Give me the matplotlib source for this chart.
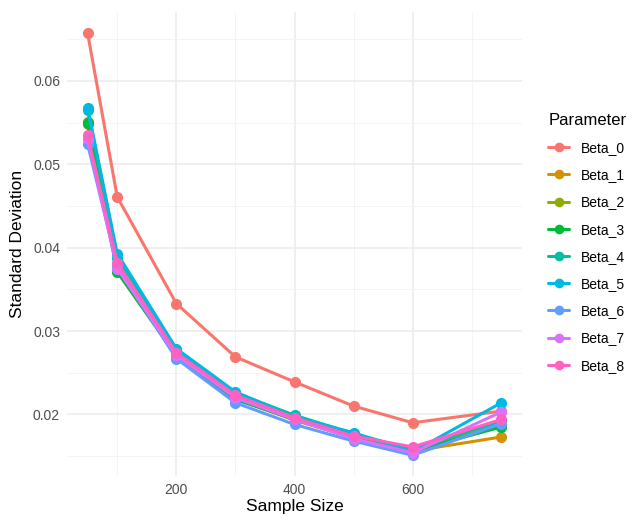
import numpy as np
import matplotlib
matplotlib.use("Agg")
import matplotlib.pyplot as plt

# --------------------------------------------------
# Data
# --------------------------------------------------

sample_sizes = [50, 100, 200, 300, 400, 500, 600, 750]

beta_0 = [0.0657, 0.0461, 0.0333, 0.0269, 0.0239, 0.0210, 0.0190, 0.0204]
beta_1 = [0.0548, 0.0376, 0.0271, 0.0219, 0.0193, 0.0172, 0.0156, 0.0173]
beta_2 = [0.0551, 0.0377, 0.0272, 0.0220, 0.0195, 0.0173, 0.0157, 0.0188]
beta_3 = [0.0549, 0.0371, 0.0270, 0.0218, 0.0194, 0.0172, 0.0156, 0.0185]
beta_4 = [0.0565, 0.0388, 0.0277, 0.0226, 0.0199, 0.0177, 0.0158, 0.0192]
beta_5 = [0.0568, 0.0393, 0.0279, 0.0227, 0.0197, 0.0178, 0.0155, 0.0214]
beta_6 = [0.0524, 0.0378, 0.0267, 0.0214, 0.0188, 0.0168, 0.0151, 0.0189]
beta_7 = [0.0530, 0.0375, 0.0271, 0.0220, 0.0194, 0.0171, 0.0154, 0.0203]
beta_8 = [0.0535, 0.0382, 0.0274, 0.0223, 0.0196, 0.0174, 0.0161, 0.0194]

labels = ["Beta_0", "Beta_1", "Beta_2", "Beta_3", "Beta_4",
          "Beta_5", "Beta_6", "Beta_7", "Beta_8"]
series = [beta_0, beta_1, beta_2, beta_3, beta_4,
          beta_5, beta_6, beta_7, beta_8]
colors = ["#F8766D", "#D39200", "#93AA00", "#00BA38", "#00C19F",
          "#00B9E3", "#619CFF", "#DB72FB", "#FF61C3"]

# --------------------------------------------------
# Figure
# --------------------------------------------------

plt.rcParams["font.family"] = ["Liberation Sans", "DejaVu Sans"]

fig = plt.figure(figsize=(6.32, 5.15), dpi=100)
ax = fig.add_axes([0.106, 0.075, 0.72, 0.901])

for label, values, color in zip(labels, series, colors):
    ax.plot(
        sample_sizes,
        values,
        color=color,
        linewidth=2.2,
        marker="o",
        markersize=7,
        label=label,
        solid_capstyle="round",
    )

# ggplot-like expansion
xmin, xmax = min(sample_sizes), max(sample_sizes)
all_vals = np.concatenate([np.array(s) for s in series])
ymin, ymax = all_vals.min(), all_vals.max()
ax.set_xlim(xmin - 0.05 * (xmax - xmin), xmax + 0.05 * (xmax - xmin))
ax.set_ylim(ymin - 0.05 * (ymax - ymin), ymax + 0.05 * (ymax - ymin))

ax.set_xticks([200, 400, 600])
ax.set_xticks([100, 300, 500, 700], minor=True)
ax.set_yticks([0.02, 0.03, 0.04, 0.05, 0.06])
ax.set_yticks([0.015, 0.025, 0.035, 0.045, 0.055, 0.065], minor=True)
ax.set_yticklabels(["0.02", "0.03", "0.04", "0.05", "0.06"])

ax.grid(True, which="major", color="#EBEBEB", linewidth=1.1)
ax.grid(True, which="minor", color="#F3F3F3", linewidth=0.6)
ax.set_axisbelow(True)

for spine in ax.spines.values():
    spine.set_visible(False)

ax.tick_params(axis="both", which="both", length=0, labelsize=10,
               labelcolor="#4D4D4D", pad=5)

ax.set_xlabel("Sample Size", fontsize=12.5, labelpad=1)
ax.set_ylabel("Standard Deviation", fontsize=12.5, labelpad=6)

leg = ax.legend(
    loc="upper left",
    bbox_to_anchor=(0.848, 0.805),
    bbox_transform=fig.transFigure,
    frameon=False,
    title="Parameter",
    fontsize=10,
    title_fontsize=12,
    handlelength=1.5,
    handletextpad=0.8,
    labelspacing=0.95,
    markerscale=0.85,
)
leg._legend_box.align = "left"

fig.savefig("out.png", dpi=100)
